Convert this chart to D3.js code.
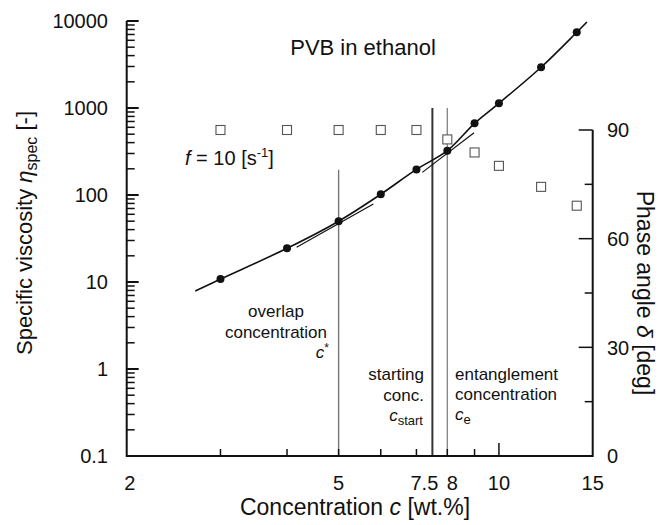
<!DOCTYPE html>
<html>
<head>
<meta charset="utf-8">
<script src="https://cdn.jsdelivr.net/npm/d3@7"></script>
<style>
  body { margin: 0; background: #fff; }
  text { font-family: "Liberation Sans", Arial, sans-serif; fill: #111; }
</style>
</head>
<body>
<script>
// measured data: concentration [wt.%], specific viscosity, phase angle [deg]
const conc = [3, 4, 5, 6, 7, 8, 9, 10, 12, 14];
const etaSpec = [10.8, 24.4, 50, 102, 197, 323, 667, 1133, 2940, 7420];
const phase = [90, 90, 90, 90, 90, 87.4, 83.8, 80.1, 74.3, 69.1];

// fitted curve
const fitConc = [2.69, 3, 4, 5, 6, 7, 8, 9, 10, 12, 14, 14.63];
const fitEta = [7.9, 10.8, 24.4, 50, 102, 197, 323, 667, 1133, 2940, 7420, 9750];

// tangent lines at c* and ce
const tanStarC = [4.17, 5.81], tanStarEta = [25.1, 78.8];
const tanEC = [7.18, 8.98], tanEEta = [182, 520];

// characteristic concentrations and the top of their marker lines
const markC = [5, 7.5, 8];
const markTop = [195, 1000, 1000];

const xTickVals = [2, 5, 7.5, 8, 10, 15];
const yTickVals = [0.1, 1, 10, 100, 1000, 10000];
const y2TickVals = [0, 30, 60, 90];

const W = 663, H = 525;
const svg = d3.select("body").append("svg").attr("width", W).attr("height", H);

const x = d3.scaleLog().domain([2, 15]).range([126.7, 592.7]);
const y = d3.scaleLog().domain([0.1, 10000]).range([456, 21]);
const y2 = d3.scaleLinear().domain([0, 90]).range([456, 130]);

const axisCol = "#111";

// marker lines
const markStyle = [{ c: "#777", w: 1.4 }, { c: "#333", w: 2 }, { c: "#888", w: 1.4 }];
markC.forEach((c, i) => {
  svg.append("line")
    .attr("x1", x(c)).attr("x2", x(c))
    .attr("y1", y(markTop[i])).attr("y2", y(0.1))
    .attr("stroke", markStyle[i].c).attr("stroke-width", markStyle[i].w);
});

// ticks: left (log), inward
const yMinor = [];
for (let e = -1; e < 4; e++) for (let k = 2; k <= 9; k++) yMinor.push(k * Math.pow(10, e));
const g = svg.append("g");
yMinor.forEach(v => {
  g.append("line").attr("x1", x(2)).attr("x2", x(2) + 8).attr("y1", y(v)).attr("y2", y(v))
    .attr("stroke", axisCol).attr("stroke-width", 1.5);
});
yTickVals.forEach(v => {
  g.append("line").attr("x1", x(2)).attr("x2", x(2) + 12).attr("y1", y(v)).attr("y2", y(v))
    .attr("stroke", axisCol).attr("stroke-width", 2);
  g.append("text").attr("x", 108).attr("y", y(v)).attr("dy", "0.36em")
    .attr("text-anchor", "end").attr("font-size", 20).text(d3.format("~")(v));
});

// bottom ticks
[3, 4, 5, 6, 7, 8, 9].forEach(v => {
  g.append("line").attr("x1", x(v)).attr("x2", x(v)).attr("y1", y(0.1)).attr("y2", y(0.1) - 7)
    .attr("stroke", axisCol).attr("stroke-width", 1.5);
});
g.append("line").attr("x1", x(10)).attr("x2", x(10)).attr("y1", y(0.1)).attr("y2", y(0.1) - 13)
  .attr("stroke", axisCol).attr("stroke-width", 1.5);
const xNudge = { 2: 3, 7.5: -8, 8: 5 };
xTickVals.forEach(v => {
  g.append("text").attr("x", x(v) + (xNudge[v] || 0)).attr("y", 490)
    .attr("text-anchor", "middle").attr("font-size", 20).text(v);
});

// right ticks
d3.range(0, 91, 15).forEach(v => {
  const len = v % 30 === 0 ? 14 : 8;
  g.append("line").attr("x1", x(15)).attr("x2", x(15) - len).attr("y1", y2(v)).attr("y2", y2(v))
    .attr("stroke", axisCol).attr("stroke-width", 1.5);
});
y2TickVals.forEach(v => {
  g.append("text").attr("x", 607).attr("y", y2(v)).attr("dy", "0.36em")
    .attr("font-size", 20).text(v);
});

// axis lines
g.append("path")
  .attr("d", `M${x(2)},${y(10000)}V${y(0.1)}H${x(15)}V${y2(90)}`)
  .attr("fill", "none").attr("stroke", axisCol).attr("stroke-width", 2);

// fitted curve
const line = d3.line().x(d => x(d[0])).y(d => y(d[1])).curve(d3.curveCatmullRom);
svg.append("path").datum(d3.zip(fitConc, fitEta)).attr("d", line)
  .attr("fill", "none").attr("stroke", "#111").attr("stroke-width", 1.6);

// tangents
[[tanStarC, tanStarEta], [tanEC, tanEEta]].forEach(t => {
  svg.append("path").datum(d3.zip(t[0], t[1])).attr("d", d3.line().x(d => x(d[0])).y(d => y(d[1])))
    .attr("fill", "none").attr("stroke", "#111").attr("stroke-width", 1.2);
});

// phase angle squares
svg.selectAll(".sq").data(d3.zip(conc, phase)).enter().append("rect")
  .attr("x", d => x(d[0]) - 4.5).attr("y", d => y2(d[1]) - 4.5)
  .attr("width", 9).attr("height", 9)
  .attr("fill", "#fff").attr("stroke", "#555").attr("stroke-width", 1.1);

// viscosity points
svg.selectAll(".pt").data(d3.zip(conc, etaSpec)).enter().append("circle")
  .attr("cx", d => x(d[0])).attr("cy", d => y(d[1])).attr("r", 4)
  .attr("fill", "#111");

// annotations
svg.append("text").attr("x", 363).attr("y", 55).attr("text-anchor", "middle")
  .attr("font-size", 22).text("PVB in ethanol");

const f = svg.append("text").attr("x", 185).attr("y", 165).attr("font-size", 20);
f.append("tspan").attr("font-style", "italic").text("f");
f.append("tspan").text(" = 10 [s");
f.append("tspan").attr("font-size", 13).attr("dy", -8).text("-1");
f.append("tspan").attr("dy", 8).text("]");

const ann = (xp, yp, anchor, txt) => svg.append("text").attr("x", xp).attr("y", yp)
  .attr("text-anchor", anchor).attr("font-size", 17).text(txt);
const annSub = (xp, yp, anchor, sub, sup) => {
  const t = svg.append("text").attr("x", xp).attr("y", yp).attr("text-anchor", anchor).attr("font-size", 17);
  t.append("tspan").attr("font-style", "italic").text("c");
  if (sub) t.append("tspan").attr("font-size", 13).attr("dy", 4).text(sub);
  if (sup) t.append("tspan").attr("font-size", 12).attr("dy", -6).text(sup);
};
ann(276, 317, "middle", "overlap");
ann(276, 338, "middle", "concentration");
annSub(329, 358, "end", null, "*");
ann(424, 380, "end", "starting");
ann(424, 401, "end", "conc.");
annSub(423, 421, "end", "start", null);
ann(455, 380, "start", "entanglement");
ann(455, 400, "start", "concentration");
annSub(455, 420, "start", "e", null);

// axis titles
const xt = svg.append("text").attr("x", 355).attr("y", 515).attr("text-anchor", "middle").attr("font-size", 23);
xt.append("tspan").text("Concentration ");
xt.append("tspan").attr("font-style", "italic").text("c");
xt.append("tspan").text(" [wt.%]");

const yt = svg.append("text").attr("transform", "translate(32,233) rotate(-90)")
  .attr("text-anchor", "middle").attr("font-size", 22);
yt.append("tspan").text("Specific viscosity ");
yt.append("tspan").attr("font-style", "italic").text("η");
yt.append("tspan").attr("font-size", 16).attr("dy", 5).text("spec");
yt.append("tspan").attr("dy", -5).text(" [-]");

const y2t = svg.append("text").attr("transform", "translate(637,293) rotate(90)")
  .attr("text-anchor", "middle").attr("font-size", 23);
y2t.append("tspan").text("Phase angle ");
y2t.append("tspan").attr("font-style", "italic").text("δ");
y2t.append("tspan").text(" [deg]");
</script>
</body>
</html>
